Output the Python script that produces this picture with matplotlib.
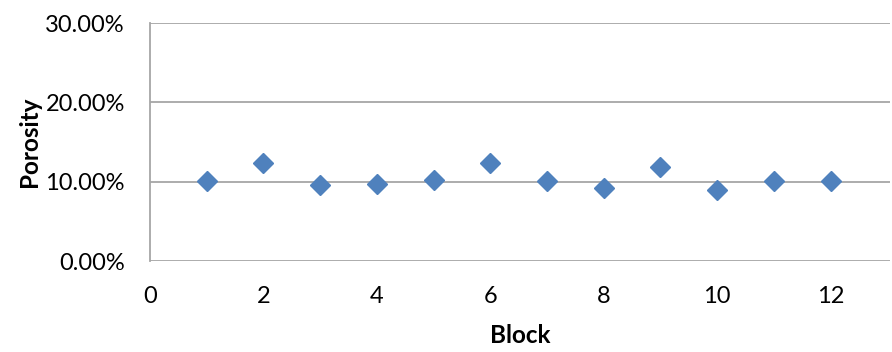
import matplotlib.pyplot as plt
from matplotlib.ticker import PercentFormatter

plt.rcParams['font.family'] = ['Lato', 'DejaVu Sans']

# block number vs porosity (fraction)
blocks = [1, 2, 3, 4, 5, 6, 7, 8, 9, 10, 11, 12]
porosity = [0.1015, 0.124, 0.096, 0.0975, 0.102, 0.124, 0.1015, 0.092, 0.1185, 0.090, 0.1015, 0.1015]

fig = plt.figure(figsize=(8.92, 3.52), dpi=100)
ax = fig.add_axes([0.168, 0.2585, 0.830, 0.676])

ax.plot(blocks, porosity, linestyle='none', marker='D', markersize=10.5,
        color='#4F81BD', zorder=3, clip_on=False)

ax.set_xlim(0, 13.05)
ax.set_ylim(0, 0.30)
ax.set_xticks(range(0, 13, 2))
ax.set_yticks([0, 0.1, 0.2, 0.3])
ax.yaxis.set_major_formatter(PercentFormatter(1.0, decimals=2))

ax.grid(axis='y', color='#A6A6A6', linewidth=1.3)
ax.set_axisbelow(True)
for s in ['top', 'right', 'bottom']:
    ax.spines[s].set_visible(False)
ax.spines['left'].set_color('#A6A6A6')
ax.spines['left'].set_linewidth(1.3)

ax.tick_params(axis='both', length=0, labelsize=17, colors='#000000')
ax.tick_params(axis='y', pad=18)
ax.tick_params(axis='x', pad=18)

ax.set_xlabel('Block', fontsize=17.5, fontweight='bold', labelpad=12)
ax.set_ylabel('Porosity', fontsize=17.5, fontweight='bold', labelpad=3)

fig.savefig('out.png', dpi=100)
